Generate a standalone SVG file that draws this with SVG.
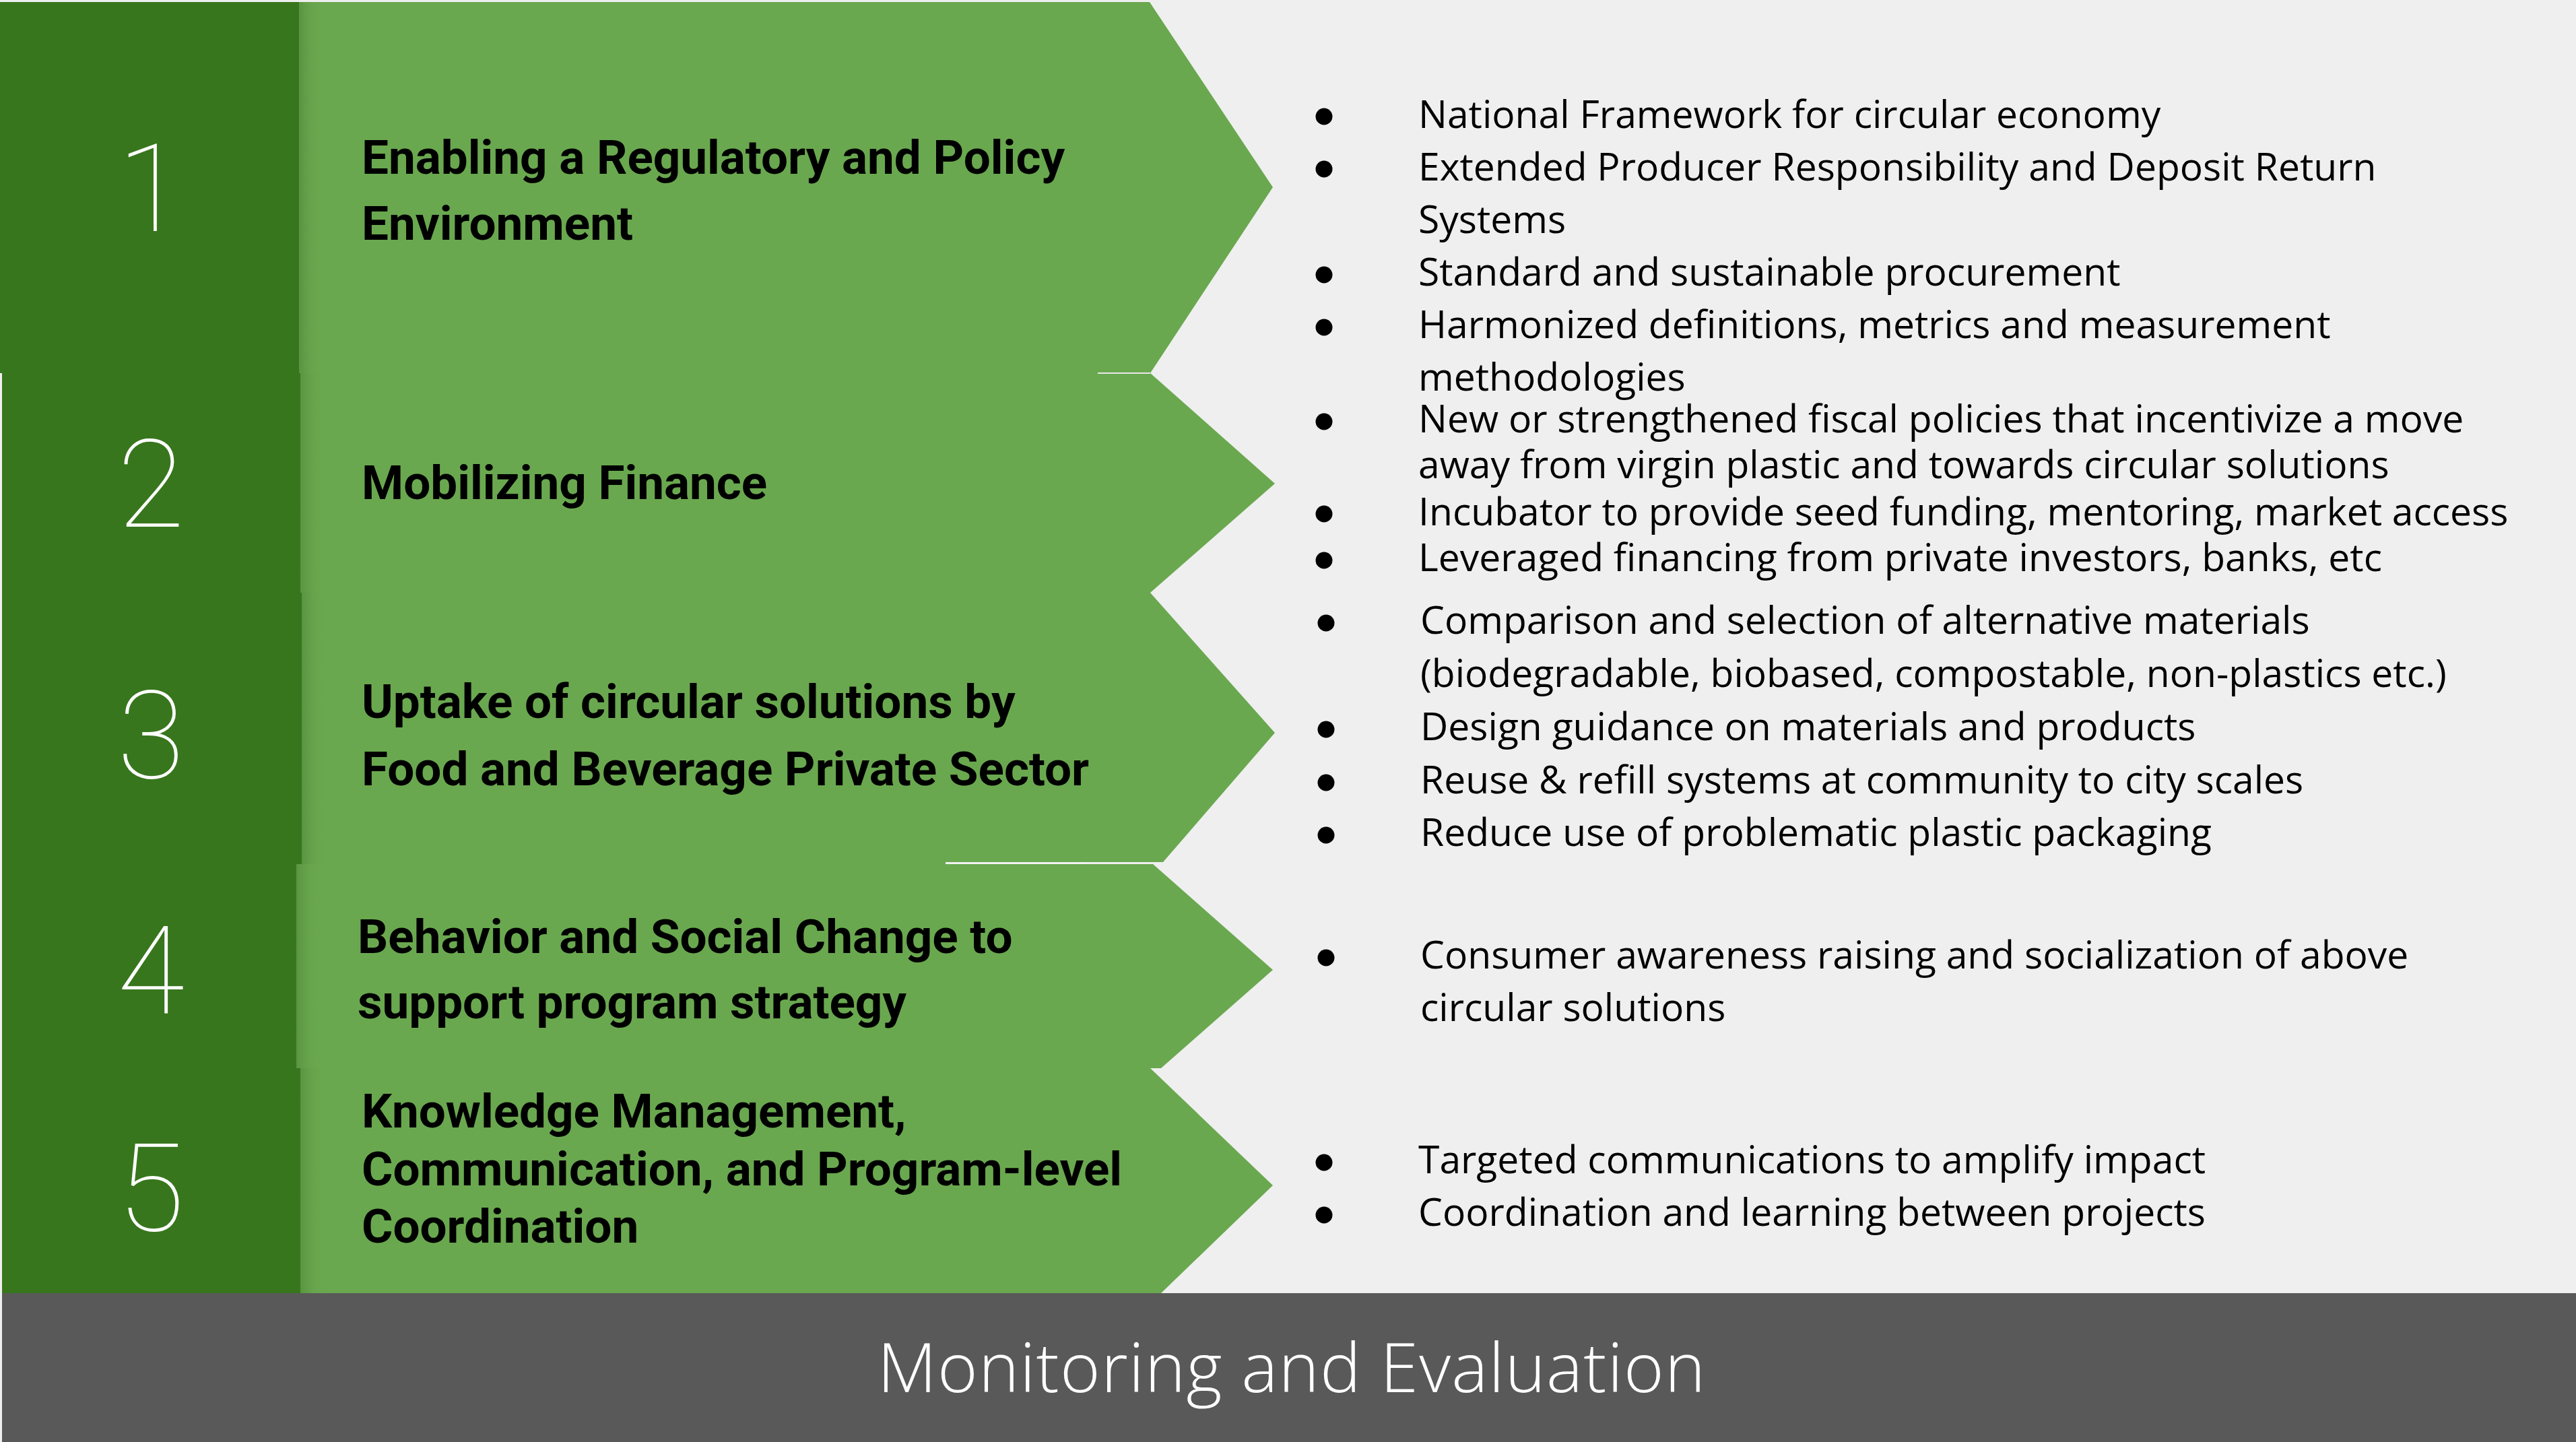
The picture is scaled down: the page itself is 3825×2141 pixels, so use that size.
<svg xmlns="http://www.w3.org/2000/svg" width="3825" height="2141" viewBox="0 0 3825 2141">
<defs>
<linearGradient id="shade" x1="0" y1="0" x2="1" y2="0">
<stop offset="0" stop-color="#5a9441"/>
<stop offset="1" stop-color="#6aa84f" stop-opacity="0"/>
</linearGradient>
</defs>
<style>
.dark{fill:#38761d}
.light{fill:#6aa84f}
.num{font-family:Roboto,"Liberation Sans",sans-serif;font-weight:100;font-size:182px;fill:#ffffff;text-anchor:middle}
.title{font-family:Roboto,"Liberation Sans",sans-serif;font-weight:700;font-size:71px;fill:#000000}
.item{font-family:"Open Sans","Liberation Sans",sans-serif;font-size:57px;fill:#000000}
.bul{fill:#000000}
.me{font-family:"Open Sans","Liberation Sans",sans-serif;font-weight:300;font-size:102px;letter-spacing:1.2px;fill:#ffffff;text-anchor:middle}
.seam{stroke:#e8e8e8;fill:none}
</style>
<rect x="0" y="0" width="3825" height="2141" fill="#efefef"/>

<g id="row1">
<polygon class="light" points="444,3 1707,3 1890,278 1708,554 444,554"/>
<rect x="444" y="3" width="36" height="551" fill="url(#shade)"/>
<rect class="dark" x="0" y="3" width="444" height="551"/>
<text class="num" x="224" y="343">1</text>
<text class="title" x="537" y="258">Enabling a Regulatory and Policy</text>
<text class="title" x="537" y="356">Environment</text>
</g>

<g id="row2">
<polygon class="light" points="446,554 1708,554 1893,718 1708,880 446,880"/>
<rect x="446" y="554" width="36" height="326" fill="url(#shade)"/>
<rect class="dark" x="3" y="554" width="443" height="326"/>
<text class="num" x="224" y="782">2</text>
<text class="title" x="537" y="741">Mobilizing Finance</text>
</g>

<g id="row3">
<polygon class="light" points="448,880 1708,880 1893,1088 1727,1280 1404,1280 1404,1283 448,1283"/>
<rect x="448" y="880" width="36" height="403" fill="url(#shade)"/>
<rect class="dark" x="3" y="880" width="445" height="403"/>
<text class="num" x="224" y="1155">3</text>
<text class="title" x="537" y="1066">Uptake of circular solutions by</text>
<text class="title" x="537" y="1166">Food and Beverage Private Sector</text>
</g>

<g id="row4">
<polygon class="light" points="440,1283 1712,1283 1890,1440 1724,1586 440,1586"/>
<rect x="440" y="1283" width="36" height="303" fill="url(#shade)"/>
<rect class="dark" x="3" y="1283" width="437" height="303"/>
<text class="num" x="224" y="1504">4</text>
<text class="title" x="531" y="1415">Behavior and Social Change to</text>
<text class="title" x="531" y="1512">support program strategy</text>
</g>

<g id="row5">
<polygon class="light" points="446,1586 1708,1586 1890,1760 1724,1920 446,1920"/>
<rect x="446" y="1586" width="36" height="334" fill="url(#shade)"/>
<rect class="dark" x="3" y="1586" width="443" height="334"/>
<text class="num" x="224" y="1827">5</text>
<text class="title" x="537" y="1674">Knowledge Management,</text>
<text class="title" x="537" y="1760">Communication, and Program-level</text>
<text class="title" x="537" y="1845">Coordination</text>
</g>

<g id="connectors">
<line class="seam" x1="1630" y1="554" x2="1708" y2="554" stroke-width="2"/>
<line class="seam" x1="1404" y1="1281.5" x2="1612" y2="1281.5" stroke-width="3" style="stroke:#f2f2f2"/>
</g>

<g id="list1">
<circle class="bul" cx="1966" cy="173" r="12.5"/>
<text class="item" x="2106" y="190">National Framework for circular economy</text>
<circle class="bul" cx="1966" cy="251" r="12.5"/>
<text class="item" x="2106" y="268">Extended Producer Responsibility and Deposit Return</text>
<text class="item" x="2106" y="346">Systems</text>
<circle class="bul" cx="1966" cy="408" r="12.5"/>
<text class="item" x="2106" y="424">Standard and sustainable procurement</text>
<circle class="bul" cx="1966" cy="486" r="12.5"/>
<text class="item" x="2106" y="502">Harmonized definitions, metrics and measurement</text>
<text class="item" x="2106" y="580">methodologies</text>
</g>

<g id="list2">
<circle class="bul" cx="1966" cy="626" r="12.5"/>
<text class="item" x="2106" y="642">New or strengthened fiscal policies that incentivize a move</text>
<text class="item" x="2106" y="710">away from virgin plastic and towards circular solutions</text>
<circle class="bul" cx="1966" cy="763" r="12.5"/>
<text class="item" x="2106" y="780">Incubator to provide seed funding, mentoring, market access</text>
<circle class="bul" cx="1966" cy="832" r="12.5"/>
<text class="item" x="2106" y="848">Leveraged financing from private investors, banks, etc</text>
</g>

<g id="list3">
<circle class="bul" cx="1969" cy="925" r="12.5"/>
<text class="item" x="2109" y="941">Comparison and selection of alternative materials</text>
<text class="item" x="2109" y="1020">(biodegradable, biobased, compostable, non-plastics etc.)</text>
<circle class="bul" cx="1969" cy="1083" r="12.5"/>
<text class="item" x="2109" y="1099">Design guidance on materials and products</text>
<circle class="bul" cx="1969" cy="1162" r="12.5"/>
<text class="item" x="2109" y="1178">Reuse &amp; refill systems at community to city scales</text>
<circle class="bul" cx="1969" cy="1240" r="12.5"/>
<text class="item" x="2109" y="1256">Reduce use of problematic plastic packaging</text>
</g>

<g id="list4">
<circle class="bul" cx="1969" cy="1422" r="12.5"/>
<text class="item" x="2109" y="1438">Consumer awareness raising and socialization of above</text>
<text class="item" x="2109" y="1516">circular solutions</text>
</g>

<g id="list5">
<circle class="bul" cx="1966" cy="1726" r="12.5"/>
<text class="item" x="2106" y="1742">Targeted communications to amplify impact</text>
<circle class="bul" cx="1966" cy="1804" r="12.5"/>
<text class="item" x="2106" y="1820">Coordination and learning between projects</text>
</g>

<g id="monitoring">
<rect x="3" y="1920" width="3822" height="221" fill="#595959"/>
<text class="me" x="1918" y="2067">Monitoring and Evaluation</text>
</g>
</svg>
